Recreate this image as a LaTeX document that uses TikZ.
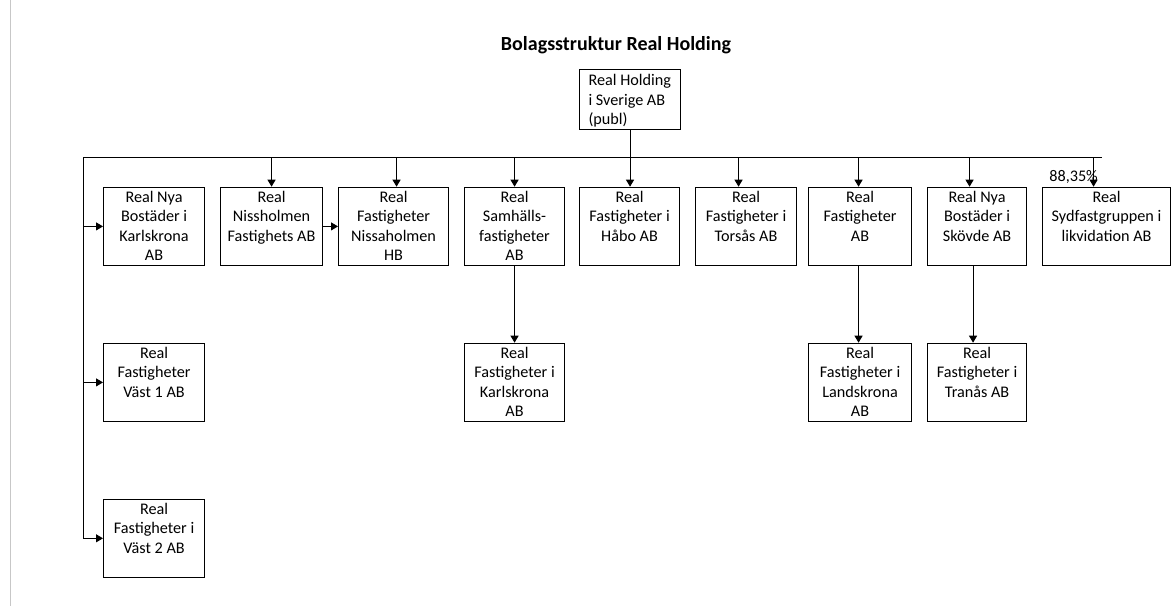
\documentclass[tikz,border=0pt]{standalone}
\usepackage{fontspec}
\setmainfont{Carlito}
\usetikzlibrary{arrows.meta}
\newcommand{\bxt}[3]{\parbox[c][#2][t]{#1}{\centering\vspace*{1.4pt}\strut #3\strut}}
\tikzset{
  org/.style={draw, line width=1.1pt, inner sep=0pt, anchor=north west, font=\fontsize{16.2}{19.5}\selectfont},
  conn/.style={line width=1pt},
  arr/.style={line width=1pt, -{Triangle[length=7pt,width=8pt]}},
}
\begin{document}
\begin{tikzpicture}[x=1pt,y=-1pt]
\useasboundingbox (0,0) rectangle (1173,606);
\draw[black!22, line width=1pt] (10.5,0) -- (10.5,606);

\node[font=\fontsize{20}{24}\selectfont\bfseries, anchor=base] (title) at (616,50) {Bolagsstruktur Real Holding};

\node[org] (hold) at (579,69) {\parbox[c][60pt][t]{101pt}{\raggedright\leftskip=9pt\vspace*{2.3pt}\strut Real Holding\\i Sverige AB\\(publ)}};

\node[org] (b1) at (103,186.7) {\bxt{101pt}{78.3pt}{Real Nya\\Bostäder i\\Karlskrona\\AB}};
\node[org] (b2) at (220,186.7) {\bxt{102pt}{78.3pt}{Real\\Nissholmen\\Fastighets AB}};
\node[org] (b3) at (338,186.7) {\bxt{110pt}{78.3pt}{Real\\Fastigheter\\Nissaholmen\\HB}};
\node[org] (b4) at (464,186.7) {\bxt{100pt}{78.3pt}{Real\\Samhälls-\\fastigheter\\AB}};
\node[org] (b5) at (579,186.7) {\bxt{100pt}{78.3pt}{Real\\Fastigheter i\\Håbo AB}};
\node[org] (b6) at (695,186.7) {\bxt{101pt}{78.3pt}{Real\\Fastigheter i\\Torsås AB}};
\node[org] (b7) at (808,186.7) {\bxt{103pt}{78.3pt}{Real\\Fastigheter\\AB}};
\node[org] (b8) at (927,186.7) {\bxt{99pt}{78.3pt}{Real Nya\\Bostäder i\\Skövde AB}};
\node[org] (b9) at (1042,186.7) {\bxt{128pt}{78.3pt}{Real\\Sydfastgruppen i\\likvidation AB}};

\node[org] (c1) at (103,342.7) {\bxt{101pt}{78.3pt}{Real\\Fastigheter\\Väst 1 AB}};
\node[org] (c2) at (103,498.5) {\bxt{101pt}{78.5pt}{Real\\Fastigheter i\\Väst 2 AB}};
\node[org] (c3) at (464,342.7) {\bxt{100pt}{78.3pt}{Real\\Fastigheter i\\Karlskrona\\AB}};
\node[org] (c4) at (808,342.7) {\bxt{103pt}{78.3pt}{Real\\Fastigheter i\\Landskrona\\AB}};
\node[org] (c5) at (927,342.7) {\bxt{99pt}{78.3pt}{Real\\Fastigheter i\\Tranås AB}};

\node[anchor=base east, inner sep=0pt, font=\fontsize{16.2}{19.5}\selectfont] (pct) at (1098,181.5) {88,35\%};

\coordinate (busL) at (83,157.3);
\coordinate (busR) at (1101.7,157.3);

\draw[conn] (busL) -- (busR);
\draw[arr] (hold.south) -- (hold.south |- b5.north);
\draw[arr] (busL) |- (c2.west);
\draw[arr] (busL |- b1.west) -- (b1.west);
\draw[arr] (busL |- c1.west) -- (c1.west);

\draw[arr] (b2.north |- busL) -- (b2.north);
\draw[arr] ([xshift=3pt]b3.north |- busL) -- ([xshift=3pt]b3.north);
\draw[arr] (b4.north |- busL) -- (b4.north);
\draw[arr] ([xshift=-7.5pt]b6.north |- busL) -- ([xshift=-7.5pt]b6.north);
\draw[arr] ([xshift=-1.5pt]b7.north |- busL) -- ([xshift=-1.5pt]b7.north);
\draw[arr] ([xshift=-7.5pt]b8.north |- busL) -- ([xshift=-7.5pt]b8.north);
\draw[arr] ([xshift=-13pt]b9.north |- busL) -- ([xshift=-13pt]b9.north);

\draw[arr] (b2.east) -- (b3.west);
\draw[arr] (b4.south) -- (c3.north);
\draw[arr] ([xshift=-1.5pt]b7.south) -- ([xshift=-1.5pt]c4.north);
\draw[arr] ([xshift=-4pt]b8.south) -- ([xshift=-4pt]c5.north);
\end{tikzpicture}
\end{document}
